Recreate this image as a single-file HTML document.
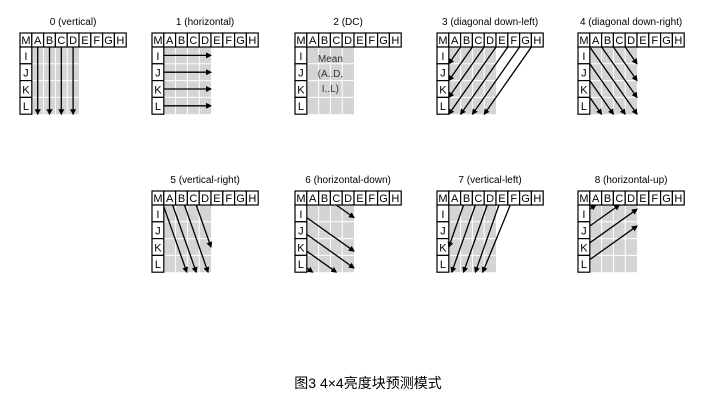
<!DOCTYPE html>
<html><head><meta charset="utf-8"><style>
body{margin:0;background:#fff;width:705px;height:411px;overflow:hidden}
svg{display:block}
text{font-family:"Liberation Sans","Noto Sans CJK SC",sans-serif}
</style></head><body>
<svg id="s" width="705" height="411">
<defs><marker id="ah" markerWidth="6" markerHeight="6" refX="5" refY="3" orient="auto" markerUnits="userSpaceOnUse"><path d="M0,0 L6,3 L0,6 z" fill="#000"/></marker></defs>
<text x="368" y="388" font-size="14" text-anchor="middle">图3 4×4亮度块预测模式</text>
</svg>
<script>
const modeLabels=["0 (vertical)","1 (horizontal)","2 (DC)","3 (diagonal down-left)","4 (diagonal down-right)","5 (vertical-right)","6 (horizontal-down)","7 (vertical-left)","8 (horizontal-up)"];
const blockX=[20,152,295,437,578,152,295,437,578];
const blockY=[33,33,33,33,33,191,191,191,191];
// ray starts in grid units (col,row) relative to predicted-block top-left, and direction (dcol,drow)
const raySets=[
 [[0.5,-0.5,0,1],[1.5,-0.5,0,1],[2.5,-0.5,0,1],[3.5,-0.5,0,1]],
 [[-0.5,0.5,1,0],[-0.5,1.5,1,0],[-0.5,2.5,1,0],[-0.5,3.5,1,0]],
 [],
 [[1.5,-0.5,-1,1],[2.5,-0.5,-1,1],[3.5,-0.5,-1,1],[4.5,-0.5,-1,1],[5.5,-0.5,-1,1],[6.5,-0.5,-1,1],[7.5,-0.5,-1,1]],
 [[-0.3,-0.3,1,1],[0.5,-0.5,1,1],[1.5,-0.5,1,1],[2.5,-0.5,1,1],[-0.5,0.5,1,1],[-0.5,1.5,1,1],[-0.5,2.5,1,1]],
 [[-0.3,-0.5,0.5,1],[0.5,-0.5,0.5,1],[1.5,-0.5,0.5,1],[2.5,-0.5,0.5,1]],
 [[-0.5,0.5,2,1],[-0.5,1.5,2,1],[-0.5,2.5,2,1],[-0.5,3.5,2,1],[1.5,-0.5,2,1]],
 [[1.5,-0.5,-0.5,1],[2.5,-0.5,-0.5,1],[3.5,-0.5,-0.5,1],[4.5,-0.5,-0.5,1],[5.5,-0.5,-0.7,1.2]],
 [[-0.5,0.5,2,-1],[-0.5,1.5,2,-1],[-0.5,2.5,2,-1],[-0.5,3.5,2,-1]]
];
const headLetters=["M","A","B","C","D","E","F","G","H"];
const sideLetters=["I","J","K","L"];
const CW=11.8,HH=14,RH=16.8;
const s=document.getElementById('s');
const NS="http://www.w3.org/2000/svg";
function mk(tag,attrs,parent){const e=document.createElementNS(NS,tag);for(const k in attrs)e.setAttribute(k,attrs[k]);(parent||s).appendChild(e);return e;}
modeLabels.forEach((lab,i)=>{
 const g=mk('g',{});
 
 
 const x0=blockX[i],y0=blockY[i];
 const t=mk('text',{x:x0+4.5*CW,y:y0-8,'font-size':10,'text-anchor':'middle'},g);t.textContent=lab;
 
 
 const gl=x0+CW,gt=y0+HH,gr=gl+4*CW,gb=gt+4*RH;
 mk('rect',{x:gl,y:gt,width:4*CW,height:4*RH,fill:'#d4d4d4'},g);
 for(let k=1;k<4;k++){mk('line',{x1:gl+k*CW,y1:gt,x2:gl+k*CW,y2:gb,stroke:'#fff','stroke-width':1},g);mk('line',{x1:gl,y1:gt+k*RH,x2:gr,y2:gt+k*RH,stroke:'#fff','stroke-width':1},g);}
 headLetters.forEach((L,k)=>{mk('rect',{x:x0+k*CW,y:y0,width:CW,height:HH,fill:'#fff',stroke:'#000','stroke-width':1.2},g);const tt=mk('text',{x:x0+k*CW+CW/2,y:y0+HH-3,'font-size':11,'text-anchor':'middle'},g);tt.textContent=L;});
 sideLetters.forEach((L,k)=>{mk('rect',{x:x0,y:gt+k*RH,width:CW,height:RH,fill:'#fff',stroke:'#000','stroke-width':1.2},g);const tt=mk('text',{x:x0+CW/2,y:gt+k*RH+RH-4,'font-size':11,'text-anchor':'middle'},g);tt.textContent=L;});
 if(i===2){["Mean","(A..D,","I..L)"].forEach((w,k)=>{const tt=mk('text',{x:gl+2*CW,y:gt+RH+k*15-2,'font-size':10,'text-anchor':'middle',fill:'#333'},g);tt.textContent=w;});}
 raySets[i].forEach(r=>{
  let sx=gl+r[0]*CW,sy=gt+r[1]*RH,dx=r[2]*CW,dy=r[3]*RH;
  // advance start to the grid boundary
  let t0=0;
  if(sy<gt&&dy>0)t0=Math.max(t0,(gt-sy)/dy);
  if(sx<gl&&dx>0)t0=Math.max(t0,(gl-sx)/dx);
  sx+=dx*t0;sy+=dy*t0;
  let tmax=1e9;
  if(dx>0)tmax=Math.min(tmax,(gr-sx)/dx);if(dx<0)tmax=Math.min(tmax,(gl-sx)/dx);
  if(dy>0)tmax=Math.min(tmax,(gb-sy)/dy);if(dy<0)tmax=Math.min(tmax,(gt-sy)/dy);
  const ln=mk('line',{x1:sx,y1:sy,x2:sx+dx*tmax,y2:sy+dy*tmax,stroke:'#000','stroke-width':1.3,'marker-end':'url(#ah)'},g);
  
  
 });
});
</script>
</body></html>
